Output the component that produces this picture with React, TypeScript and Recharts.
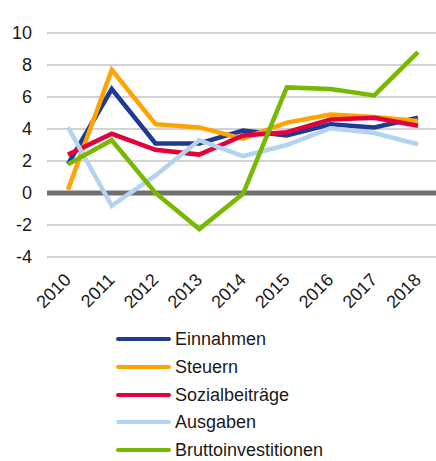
import { LineChart, Line, XAxis, YAxis, CartesianGrid, ReferenceLine } from "recharts";

const years = ["2010", "2011", "2012", "2013", "2014", "2015", "2016", "2017", "2018"];
const einnahmen = [1.8, 6.5, 3.1, 3.1, 3.9, 3.6, 4.3, 4.1, 4.7];
const steuern = [0.2, 7.7, 4.3, 4.1, 3.4, 4.4, 4.9, 4.75, 4.5];
const sozialbeitraege = [2.4, 3.7, 2.7, 2.4, 3.6, 3.8, 4.6, 4.7, 4.2];
const ausgaben = [4.1, -0.8, 1.1, 3.3, 2.3, 3.0, 4.05, 3.75, 3.05];
const bruttoinvestitionen = [1.8, 3.3, 0.0, -2.25, -0.05, 6.6, 6.5, 6.1, 8.8];
const yTicks = [-4, -2, 0, 2, 4, 6, 8, 10];

const SERIES = [
  { key: "einnahmen", name: "Einnahmen", color: "#1f3a93", values: einnahmen },
  { key: "steuern", name: "Steuern", color: "#ffa300", values: steuern },
  { key: "sozial", name: "Sozialbeiträge", color: "#e4003a", values: sozialbeitraege },
  { key: "ausgaben", name: "Ausgaben", color: "#b4d3f0", values: ausgaben },
  { key: "brutto", name: "Bruttoinvestitionen", color: "#76b900", values: bruttoinvestitionen },
];

const data = years.map((year, i) => {
  const row: Record<string, string | number> = { year };
  SERIES.forEach((s) => {
    row[s.key] = s.values[i];
  });
  return row;
});

const FONT = '"Liberation Sans", Arial, sans-serif';

function YearTick({ x, y, payload }: any) {
  return (
    <g transform={`translate(${x + 4},${y})`}>
      <text
        x={0}
        y={0}
        textAnchor="end"
        transform="rotate(-45)"
        fontSize={18}
        fontFamily={FONT}
        fill="#1a1a1a"
      >
        {payload.value}
      </text>
    </g>
  );
}

export default function App() {
  return (
    <div
      style={{
        position: "absolute",
        top: 0,
        left: 0,
        width: 436,
        height: 461,
        background: "#fff",
        fontFamily: FONT,
      }}
    >
      <LineChart width={436} height={320} data={data} margin={{ top: 33, right: 0, bottom: 0, left: 0 }}>
        <CartesianGrid vertical={false} stroke="#a6a6a6" strokeWidth={1} />
        <XAxis
          dataKey="year"
          axisLine={false}
          tickLine={false}
          tickSize={0}
          tickMargin={24}
          height={63}
          padding={{ left: 21, right: 18 }}
          interval={0}
          tick={<YearTick />}
        />
        <YAxis
          domain={[-4, 10]}
          ticks={yTicks}
          axisLine={false}
          tickLine={false}
          tickSize={0}
          tickMargin={15}
          width={47}
          tick={{ fontSize: 18, fill: "#1a1a1a", fontFamily: FONT }}
        />
        <ReferenceLine y={0} stroke="#707070" strokeWidth={5} />
        {SERIES.map((s) => (
          <Line
            key={s.key}
            dataKey={s.key}
            name={s.name}
            stroke={s.color}
            strokeWidth={4.5}
            dot={false}
            activeDot={false}
            type="linear"
            isAnimationActive={false}
          />
        ))}
      </LineChart>
      {SERIES.map((s, i) => (
        <div
          key={s.key}
          style={{
            position: "absolute",
            left: 116,
            top: 339 + 27.8 * i - 8,
            height: 16,
            display: "flex",
            alignItems: "center",
            whiteSpace: "nowrap",
          }}
        >
          <span
            style={{
              display: "inline-block",
              width: 55,
              height: 4,
              borderRadius: 2,
              background: s.color,
              marginRight: 4,
            }}
          />
          <span style={{ fontSize: 18, lineHeight: "16px", color: "#1a1a1a" }}>{s.name}</span>
        </div>
      ))}
    </div>
  );
}
